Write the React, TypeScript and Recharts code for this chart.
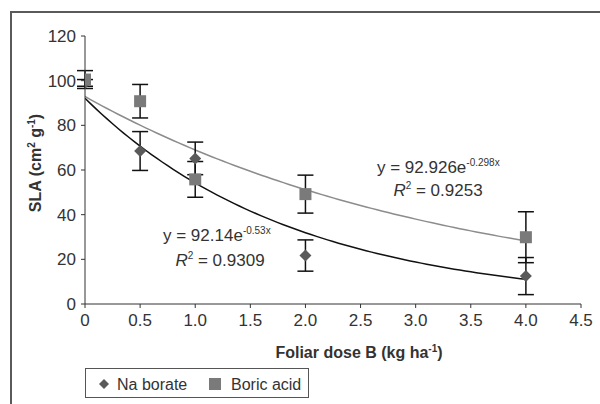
import React from 'react';
import { ComposedChart, Line, Scatter, XAxis, YAxis, ErrorBar } from 'recharts';

const xTicks = [0, 0.5, 1, 1.5, 2, 2.5, 3, 3.5, 4, 4.5];
const yTicks = [0, 20, 40, 60, 80, 100, 120];
const doses = [0, 0.5, 1, 2, 4];
const naBorate = [99, 68.5, 65.2, 21.7, 12.5];
const naBorateErr = [1.5, 8.7, 7.3, 7, 8.3];
const boricAcid = [100.5, 90.8, 55.8, 49.2, 29.9];
const boricAcidErr = [4, 7.5, 8, 8.5, 11.4];
// trendline equations as printed on the chart
const naFitA = 92.14;
const naFitB = -0.53;
const boricFitA = 92.926;
const boricFitB = -0.298;
const fitXs = Array.from({ length: 81 }, (_, i) => i * 0.05);

const naData = doses.map((x, i) => ({ x, y: naBorate[i], err: naBorateErr[i] }));
const boricData = doses.map((x, i) => ({ x, y: boricAcid[i], err: boricAcidErr[i] }));
const naFit = fitXs.map((x) => ({ x, fit: naFitA * Math.exp(naFitB * x) }));
const boricFit = fitXs.map((x) => ({ x, fit: boricFitA * Math.exp(boricFitB * x) }));

const FONT = "'Liberation Sans', Arial, sans-serif";
const TXT = '#333';

const Diamond = (p: any) => (
  <polygon
    points={`${p.cx},${p.cy - 6} ${p.cx + 6},${p.cy} ${p.cx},${p.cy + 6} ${p.cx - 6},${p.cy}`}
    fill="#5a5a5a"
  />
);
const Square = (p: any) => (
  <rect x={p.cx - 6} y={p.cy - 6} width={12} height={12} fill="#7a7a7a" />
);

const fmtX = (v: number) => (v === 0 ? '0' : v.toFixed(1));

export default function App() {
  return (
    <div style={{ position: 'fixed', left: 0, top: 0, width: 600, height: 404, overflow: 'hidden', background: '#fff' }}>
      <div
        style={{
          position: 'absolute',
          left: 10,
          top: 11,
          width: 700,
          height: 500,
          borderTop: '2px solid #5a5a5a',
          borderLeft: '2px solid #5a5a5a',
        }}
      />
      <div style={{ position: 'absolute', left: 0, top: 0 }}>
        <ComposedChart width={600} height={404} margin={{ top: 36, right: 19, bottom: 70, left: 0 }}>
          <XAxis
            dataKey="x"
            type="number"
            domain={[0, 4.5]}
            ticks={xTicks}
            tickFormatter={fmtX}
            height={30}
            tickSize={4}
            tickMargin={6}
            stroke="#333"
            tick={{ fontFamily: FONT, fontSize: 17, fill: TXT }}
            allowDataOverflow
          />
          <YAxis
            type="number"
            domain={[0, 120]}
            ticks={yTicks}
            width={85}
            tickSize={4}
            tickMargin={5}
            stroke="#333"
            tick={{ fontFamily: FONT, fontSize: 17, fill: TXT }}
            allowDataOverflow
          />
          <Line data={boricFit} dataKey="fit" stroke="#8c8c8c" strokeWidth={1.5} dot={false} isAnimationActive={false} type="linear" />
          <Line data={naFit} dataKey="fit" stroke="#111" strokeWidth={1.5} dot={false} isAnimationActive={false} type="linear" />
          <Scatter name="Na borate" data={naData} dataKey="y" shape={Diamond} isAnimationActive={false}>
            <ErrorBar dataKey="err" direction="y" width={8} stroke="#111" strokeWidth={1.5} />
          </Scatter>
          <Scatter name="Boric acid" data={boricData} dataKey="y" shape={Square} isAnimationActive={false}>
            <ErrorBar dataKey="err" direction="y" width={8} stroke="#111" strokeWidth={1.5} />
          </Scatter>
        </ComposedChart>
      </div>
      <svg width={600} height={404} style={{ position: 'absolute', left: 0, top: 0, pointerEvents: 'none' }}>
        <text
          transform="translate(41,163) rotate(-90)"
          textAnchor="middle"
          fontFamily={FONT}
          fontWeight="bold"
          fontSize={16}
          fill={TXT}
        >
          SLA (cm<tspan dy={-6} fontSize={10}>2</tspan>
          <tspan dy={6}> g</tspan>
          <tspan dy={-6} fontSize={10}>-1</tspan>
          <tspan dy={6}>)</tspan>
        </text>
        <text x={359} y={358} textAnchor="middle" fontFamily={FONT} fontWeight="bold" fontSize={16} fill={TXT}>
          Foliar dose B (kg ha<tspan dy={-6} fontSize={10}>-1</tspan>
          <tspan dy={6}>)</tspan>
        </text>
        <text x={377} y={173} fontFamily={FONT} fontSize={17} fill={TXT}>
          y = 92.926e<tspan dy={-7} fontSize={10}>-0.298x</tspan>
        </text>
        <text x={438} y={196} textAnchor="middle" fontFamily={FONT} fontSize={17} fill={TXT}>
          <tspan fontStyle="italic">R</tspan>
          <tspan dy={-7} fontSize={10}>2</tspan>
          <tspan dy={7}> = 0.9253</tspan>
        </text>
        <text x={163} y={241} fontFamily={FONT} fontSize={17} fill={TXT}>
          y = 92.14e<tspan dy={-7} fontSize={10}>-0.53x</tspan>
        </text>
        <text x={220} y={266} textAnchor="middle" fontFamily={FONT} fontSize={17} fill={TXT}>
          <tspan fontStyle="italic">R</tspan>
          <tspan dy={-7} fontSize={10}>2</tspan>
          <tspan dy={7}> = 0.9309</tspan>
        </text>
      </svg>
      <div
        style={{
          position: 'absolute',
          left: 85,
          top: 368,
          width: 224,
          height: 30,
          border: '1px solid #555',
          boxSizing: 'border-box',
          fontFamily: FONT,
          fontSize: 16,
          color: TXT,
        }}
      >
        <svg width={224} height={30} style={{ position: 'absolute', left: 0, top: 0 }}>
          <polygon points="18,10 23,15 18,20 13,15" fill="#5a5a5a" />
          <rect x={123} y={9} width={12} height={12} fill="#7a7a7a" />
          <text x={31} y={21} fontFamily={FONT} fontSize={16} fill={TXT}>Na borate</text>
          <text x={145} y={21} fontFamily={FONT} fontSize={16} fill={TXT}>Boric acid</text>
        </svg>
      </div>
    </div>
  );
}
